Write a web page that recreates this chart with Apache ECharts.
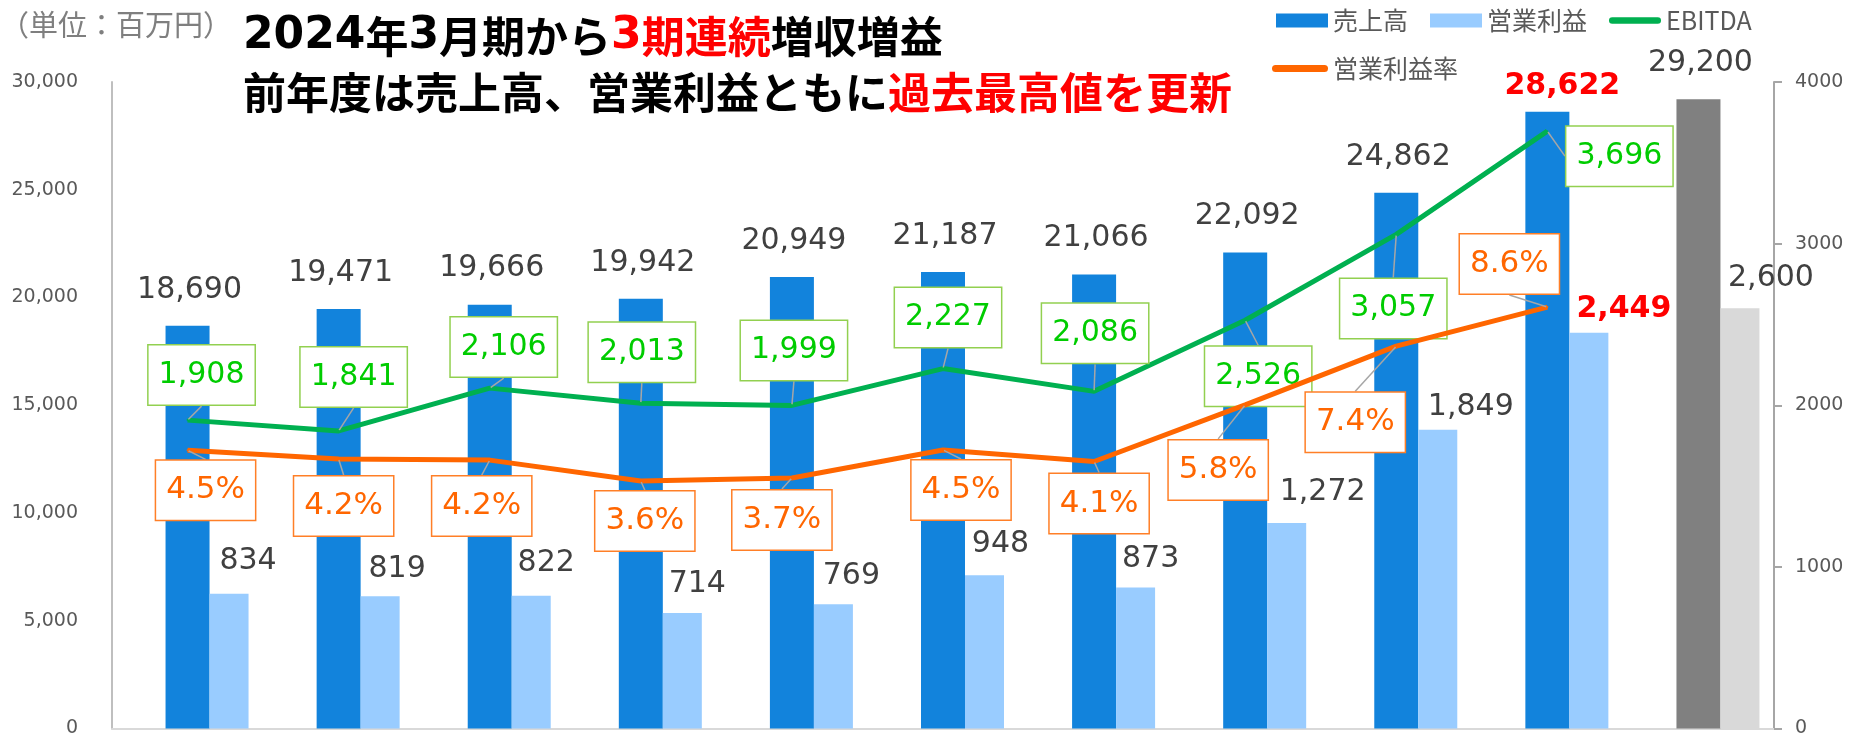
<!DOCTYPE html>
<html>
<head>
<meta charset="utf-8">
<script src="https://cdn.jsdelivr.net/npm/echarts@6/dist/echarts.min.js"></script>
<style>
  html, body { margin: 0; padding: 0; background: #fff; }
  #chart { width: 1864px; height: 738px; }
</style>
</head>
<body>
<div id="chart"></div>
<script>
// 期（表示なし）
const categories = ["2016/3", "2017/3", "2018/3", "2019/3", "2020/3", "2021/3", "2022/3", "2023/3", "2024/3", "2025/3", "2026/3(予)"];
// 売上高（百万円）
const sales = [18690, 19471, 19666, 19942, 20949, 21187, 21066, 22092, 24862, 28622, 29200];
// 営業利益（百万円）
const opProfit = [834, 819, 822, 714, 769, 948, 873, 1272, 1849, 2449, 2600];
// EBITDA（百万円）
const ebitda = [1908, 1841, 2106, 2013, 1999, 2227, 2086, 2526, 3057, 3696, null];
// 営業利益率（%）
const opMargin = [4.46, 4.21, 4.18, 3.58, 3.67, 4.47, 4.14, 5.76, 7.44, 8.56, null];

// ラベル位置の調整（Excelで手動配置されたもの）
const opLabelOffset = [[19, 3], [17, 9], [15, 4], [15, 7], [18, 8], [16, 5], [15, 8], [36, 5], [33, 14], [35, 13], [31, 6]];
const ebitdaLabelMove = [[14, -45], [15, -54], [14, -41], [1, -51], [2, -55], [5, -51], [1, -58], [13, 56], [-3, 74], [72, 25]];
const marginLabelMove = [[18, 40], [5, 47], [-8, 46], [4, 40], [-10, 42], [18, 40], [5, 42], [-27, 65], [-41, 76], [-38, -43]];

const FORECAST = 10;  // 予想
const LATEST = 9;     // 前年度（過去最高）
const NUM_FONT = "DejaVu Sans";
const JP_FONT = "Noto Sans CJK JP";
const LINE_ICON = "path://M3.5,0 H52.5 A3.5,3.5 0 0 1 52.5,7 H3.5 A3.5,3.5 0 0 1 3.5,0 Z";

const fmt = (v) => Number(v).toLocaleString("en-US");

const myChart = echarts.init(document.getElementById("chart"));

const salesData = sales.map((v, i) => {
  const item = { value: v };
  if (i === FORECAST) item.itemStyle = { color: "#808080" };
  if (i === LATEST) {
    item.label = { color: "#ff0000", fontWeight: "bold", offset: [15, 11] };
  }
  return item;
});

const opData = opProfit.map((v, i) => {
  const item = { value: v, label: { offset: opLabelOffset[i] } };
  if (i === FORECAST) item.itemStyle = { color: "#d9d9d9" };
  if (i === LATEST) {
    item.label.color = "#ff0000";
    item.label.fontWeight = "bold";
  }
  return item;
});

// タイトル用の文字スタイル
const titleBase = { fontFamily: JP_FONT, fontSize: 43, fontWeight: "bold", lineHeight: 56 };
const titleDigit = { fontFamily: NUM_FONT, fontSize: 44, fontWeight: "bold", lineHeight: 56 };

myChart.setOption({
  animation: false,
  title: [
    {
      text: "{d|2024}年{d|3}月期から{rd|3}{r|期連続}増収増益\n前年度は売上高、営業利益ともに{r|過去最高値を更新}",
      left: 238,
      top: 4,
      textStyle: Object.assign({}, titleBase, {
        color: "#000",
        rich: {
          d: Object.assign({}, titleDigit, { color: "#000" }),
          rd: Object.assign({}, titleDigit, { color: "#ff0000" }),
          r: Object.assign({}, titleBase, { color: "#ff0000" }),
        },
      }),
    },
    {
      text: "（単位：百万円）",
      left: 0,
      top: 10,
      padding: 0,
      textStyle: {
        fontFamily: JP_FONT,
        fontSize: 29,
        fontWeight: "normal",
        color: "#7f7f7f",
      },
    },
  ],
  legend: [
    {
      left: 1276,
      top: 8,
      padding: 0,
      itemWidth: 52,
      itemHeight: 14,
      itemGap: 22,
      textStyle: { fontFamily: JP_FONT, fontSize: 25, color: "#595959" },
      data: [
        { name: "売上高", icon: "rect" },
        { name: "営業利益", icon: "rect" },
        { name: "EBITDA", icon: LINE_ICON },
      ],
    },
    {
      left: 1272,
      top: 56,
      padding: 0,
      itemWidth: 56,
      itemHeight: 14,
      textStyle: { fontFamily: JP_FONT, fontSize: 25, color: "#595959" },
      data: [{ name: "営業利益率", icon: LINE_ICON }],
    },
  ],
  grid: {
    left: 112,
    right: 90,
    top: 82,
    bottom: 9,
    containLabel: false,
  },
  xAxis: {
    type: "category",
    data: categories,
    axisLine: { show: true, lineStyle: { color: "#d9d9d9", width: 2 } },
    axisTick: { show: false },
    axisLabel: { show: false },
  },
  yAxis: [
    {
      type: "value",
      min: 0,
      max: 30000,
      interval: 5000,
      position: "left",
      splitLine: { show: false },
      axisTick: { show: false },
      axisLine: { show: true, lineStyle: { color: "#bfbfbf", width: 2 } },
      axisLabel: {
        margin: 34,
        fontFamily: NUM_FONT,
        fontSize: 19,
        color: "#595959",
        formatter: (v) => fmt(v),
      },
    },
    {
      type: "value",
      min: 0,
      max: 4000,
      interval: 1000,
      position: "right",
      splitLine: { show: false },
      axisTick: { show: true, length: 8, lineStyle: { color: "#a6a6a6", width: 2 } },
      axisLine: { show: true, lineStyle: { color: "#a6a6a6", width: 2 } },
      axisLabel: {
        margin: 21,
        fontFamily: NUM_FONT,
        fontSize: 19,
        color: "#595959",
        formatter: (v) => String(v),
      },
    },
    {
      // 営業利益率用（非表示）
      type: "value",
      min: -3.5,
      max: 15,
      position: "right",
      show: false,
      splitLine: { show: false },
    },
  ],
  series: [
    {
      // 営業利益の棒を右にずらすための空系列
      name: "_pad",
      type: "bar",
      data: [],
      barWidth: 39,
      barGap: "0%",
      silent: true,
    },
    {
      name: "売上高",
      type: "bar",
      data: salesData,
      yAxisIndex: 0,
      barWidth: 44,
      barGap: "0%",
      itemStyle: { color: "#1283dc" },
      label: {
        show: true,
        position: "top",
        distance: 21,
        offset: [2, 0],
        fontFamily: NUM_FONT,
        fontSize: 30,
        color: "#404040",
        formatter: (p) => fmt(p.value),
      },
      z: 2,
    },
    {
      name: "営業利益",
      type: "bar",
      data: opData,
      yAxisIndex: 1,
      barWidth: 39,
      barGap: "0%",
      itemStyle: { color: "#99ccff" },
      label: {
        show: true,
        position: "top",
        distance: 21,
        fontFamily: NUM_FONT,
        fontSize: 30,
        color: "#404040",
        formatter: (p) => fmt(p.value),
      },
      z: 2,
    },
    {
      name: "EBITDA",
      type: "line",
      data: ebitda,
      yAxisIndex: 1,
      symbol: "circle",
      symbolSize: 2,
      showSymbol: true,
      itemStyle: { color: "#00b050" },
      lineStyle: { color: "#00b050", width: 5 },
      label: {
        show: true,
        position: "inside",
        fontFamily: NUM_FONT,
        fontSize: 30,
        lineHeight: 33,
        color: "#00cc00",
        backgroundColor: "#ffffff",
        borderColor: "#92d050",
        borderWidth: 1.5,
        padding: [13, 10, 13, 10],
        formatter: (p) => fmt(p.value),
      },
      labelLine: {
        show: true,
        lineStyle: { color: "#a6a6a6", width: 1.5 },
      },
      labelLayout: (params) => {
        const m = ebitdaLabelMove[params.dataIndex] || [0, 0];
        return { dx: m[0], dy: m[1] };
      },
      z: 3,
    },
    {
      name: "営業利益率",
      type: "line",
      data: opMargin,
      yAxisIndex: 2,
      symbol: "circle",
      symbolSize: 2,
      showSymbol: true,
      itemStyle: { color: "#ff6600" },
      lineStyle: { color: "#ff6600", width: 5 },
      label: {
        show: true,
        position: "inside",
        fontFamily: NUM_FONT,
        fontSize: 31,
        lineHeight: 33,
        color: "#ff6600",
        backgroundColor: "#ffffff",
        borderColor: "#ff7f27",
        borderWidth: 1.5,
        padding: [13, 10, 13, 10],
        formatter: (p) => p.value.toFixed(1) + "%",
      },
      labelLine: {
        show: true,
        lineStyle: { color: "#a6a6a6", width: 1.5 },
      },
      labelLayout: (params) => {
        const m = marginLabelMove[params.dataIndex] || [0, 0];
        return { dx: m[0], dy: m[1] };
      },
      z: 4,
    },
  ],
});
</script>
</body>
</html>
